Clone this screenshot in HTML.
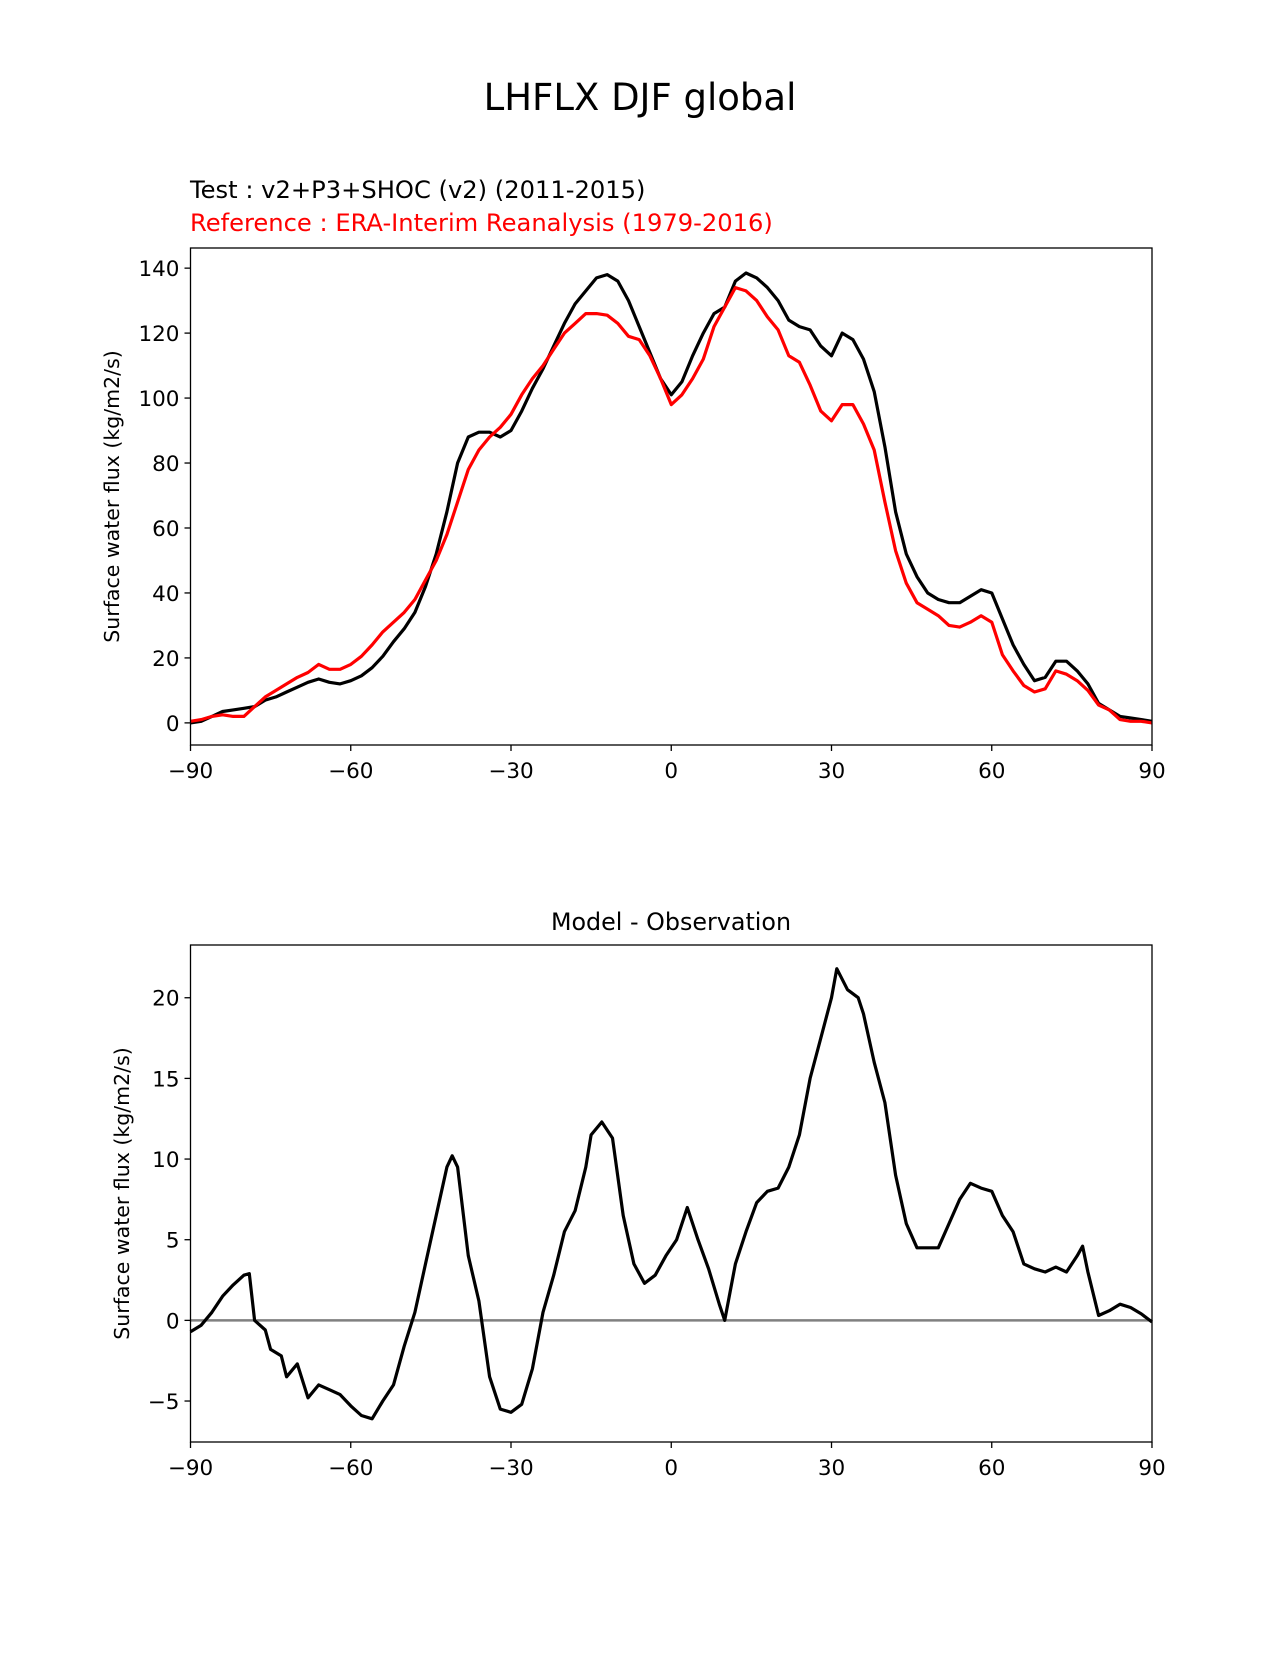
<!DOCTYPE html>
<html><head><meta charset="utf-8"><style>
body{margin:0;background:#fff;}
svg text{font-family:"DejaVu Sans","Liberation Sans",sans-serif;}
</style></head><body>
<svg id="fig" width="1275" height="1650" viewBox="0 0 1275 1650" xmlns="http://www.w3.org/2000/svg">
<rect width="1275" height="1650" fill="#fff"/>
<text x="640" y="110" font-size="37" text-anchor="middle">LHFLX DJF global</text>
<text x="190" y="198" font-size="24.2">Test : v2+P3+SHOC (v2) (2011-2015)</text>
<text x="190" y="231" font-size="24.2" fill="#ff0000">Reference : ERA-Interim Reanalysis (1979-2016)</text>
<text x="671" y="930" font-size="23.8" text-anchor="middle">Model - Observation</text>
<g id="top"></g>
<g id="bot"></g>
</svg>
<script>
const lats = [-90,-88,-86,-84,-82,-80,-78,-76,-74,-72,-70,-68,-66,-64,-62,-60,-58,-56,-54,-52,-50,-48,-46,-44,-42,-40,-38,-36,-34,-32,-30,-28,-26,-24,-22,-20,-18,-16,-14,-12,-10,-8,-6,-4,-2,0,2,4,6,8,10,12,14,16,18,20,22,24,26,28,30,32,34,36,38,40,42,44,46,48,50,52,54,56,58,60,62,64,66,68,70,72,74,76,78,80,82,84,86,88,90];
const testVals = [0,0.5,2,3.5,4,4.5,5,7,8,9.5,11,12.5,13.5,12.5,12,13,14.5,17,20.5,25,29,34,42,52,65,80,88,89.5,89.5,88,90,96,103,109,116,123,129,133,137,138,136,130,122,114,106,101,105,113,120,126,128,136,138.5,137,134,130,124,122,121,116,113,120,118,112,102,85,65,52,45,40,38,37,37,39,41,40,32,24,18,13,14,19,19,16,12,6,4,2,1.5,1,0.5];
const refVals = [0.5,1,2,2.5,2,2,5,8,10,12,14,15.5,18,16.5,16.5,18,20.5,24,28,31,34,38,44,50,58,68,78,84,88,91,95,101,106,110,115,120,123,126,126,125.5,123,119,118,113,106,98,101,106,112,122,128,134,133,130,125,121,113,111,104,96,93,98,98,92,84,68,53,43,37,35,33,30,29.5,31,33,31,21,16,11.5,9.5,10.5,16,15,13,10,5.5,4,1,0.5,0.5,0];
const diffLats = [-90,-88,-86,-84,-82,-80,-79,-78,-76,-75,-73,-72,-70,-68,-66,-64,-62,-60,-58,-56,-54,-52,-50,-48,-46,-44,-42,-41,-40,-38,-36,-34,-32,-30,-28,-26,-24,-22,-20,-18,-16,-15,-13,-11,-9,-7,-5,-3,-1,1,3,5,7,9,10,12,14,16,18,20,22,24,26,28,30,31,33,35,36,38,40,42,44,46,48,50,52,54,56,58,60,62,64,66,68,70,72,74,76,77,78,80,82,84,86,88,90];
const diffVals = [-0.7,-0.3,0.5,1.5,2.2,2.8,2.9,0,-0.6,-1.8,-2.2,-3.5,-2.7,-4.8,-4.0,-4.3,-4.6,-5.3,-5.9,-6.1,-5.0,-4.0,-1.6,0.5,3.5,6.5,9.5,10.2,9.5,4,1.2,-3.5,-5.5,-5.7,-5.2,-3,0.5,2.8,5.5,6.8,9.5,11.5,12.3,11.3,6.5,3.5,2.3,2.8,4,5,7,5,3.2,1,0,3.5,5.5,7.3,8,8.2,9.5,11.5,15,17.5,20,21.8,20.5,20,19,16,13.5,9,6,4.5,4.5,4.5,6,7.5,8.5,8.2,8,6.5,5.5,3.5,3.2,3,3.3,3,4,4.6,3,0.3,0.6,1,0.8,0.4,-0.1];
const xTicks = [-90,-60,-30,0,30,60,90];
const xTickLabels = ["\u221290","\u221260","\u221230","0","30","60","90"];
const topYTicks = [0,20,40,60,80,100,120,140];
const botYTicks = [-5,0,5,10,15,20];
const botYTickLabels = ["\u22125","0","5","10","15","20"];

const NS="http://www.w3.org/2000/svg";
function mk(parent,tag,attrs){const e=document.createElementNS(NS,tag);for(const k in attrs)e.setAttribute(k,attrs[k]);parent.appendChild(e);return e;}
const X0=190.5,X1=1152;
const xs=v=>X0+(v+90)/180*(X1-X0);

function panel(g,top,bot,ymin,ymax,yt,ytl,label){
  const ys=v=>bot-(v-ymin)/(ymax-ymin)*(bot-top);
  xTicks.forEach((t,i)=>{
    const l=mk(g,'line',{x1:xs(t),x2:xs(t),y1:bot,y2:bot+6,stroke:'#000','stroke-width':1.3});
    
    
    const tx=mk(g,'text',{x:xs(t),y:bot+33,'font-size':21.5,'text-anchor':'middle'});
    tx.textContent=xTickLabels[i];
    
    
  });
  yt.forEach((t,i)=>{
    const l=mk(g,'line',{x1:X0-6,x2:X0,y1:ys(t),y2:ys(t),stroke:'#000','stroke-width':1.3});
    
    
    const tx=mk(g,'text',{x:X0-11,y:ys(t)+8,'font-size':21.5,'text-anchor':'end'});
    tx.textContent=ytl?ytl[i]:String(t);
    
    
  });
  const yl=mk(g,'text',{x:0,y:0,'font-size':20.5,'text-anchor':'middle',transform:`translate(${label},${(top+bot)/2}) rotate(-90)`});
  yl.textContent='Surface water flux (kg/m2/s)';
  
  
  return ys;
}
function line(g,xv,yv,ys,color,w,name){
  const d=xv.map((x,i)=>(i?'L':'M')+xs(x).toFixed(1)+','+ys(yv[i]).toFixed(1)).join('');
  const p=mk(g,'path',{d,fill:'none',stroke:color,'stroke-width':w,'stroke-linejoin':'round'});
  
  
}
const gt=document.getElementById('top');
const yst=panel(gt,248,745,-6.81,146.2,topYTicks,null,119);
line(gt,lats,testVals,yst,'#000',3.2,'test-line');
line(gt,lats,refVals,yst,'#ff0000',3.2,'reference-line');
const f1=mk(gt,'rect',{x:X0,y:248,width:X1-X0,height:497,fill:'none',stroke:'#000','stroke-width':1.3});



const gb=document.getElementById('bot');
const ysb=panel(gb,945,1442,-7.54,23.27,botYTicks,botYTickLabels,129);
const z=mk(gb,'line',{x1:X0,x2:X1,y1:ysb(0),y2:ysb(0),stroke:'#808080','stroke-width':2.4});


line(gb,diffLats,diffVals,ysb,'#000',3.2,'difference-line');
const f2=mk(gb,'rect',{x:X0,y:945,width:X1-X0,height:497,fill:'none',stroke:'#000','stroke-width':1.3});


</script>
</body></html>
